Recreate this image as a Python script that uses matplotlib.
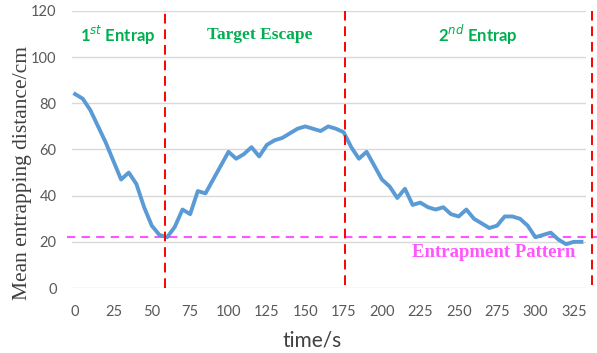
import matplotlib
matplotlib.use('Agg')
import matplotlib.pyplot as plt
import numpy as np

# time in seconds, sampled every 5 s
time_s = np.arange(0, 335, 5)
distance_cm = [84, 82, 77, 70, 63, 55, 47, 50, 45, 35,
               27, 23, 22, 26.5, 34, 32, 42, 41, 47, 53,
               59, 56, 58, 61, 57, 62, 64, 65, 67, 69,
               70, 69, 68, 70, 69, 67.5, 61, 56, 59, 53,
               47, 44, 39, 43, 36, 37, 35, 34, 35, 32,
               31, 34, 30, 28, 26, 27, 31, 31, 30, 27,
               22, 23, 24, 21, 19, 20, 20]

phase_bounds = [58.5, 176, 337]
pattern_level = 22
x_ticks = list(range(0, 350, 25))
y_ticks = list(range(0, 140, 20))

fig = plt.figure(figsize=(5.97, 3.53), dpi=100)
ax = fig.add_axes([0.1206, 0.184, 0.861, 0.785])

for y in y_ticks:
    ax.axhline(y, color='#D9D9D9', lw=1, zorder=0)

ax.plot(time_s, distance_cm, color='#5B9BD5', lw=2.8, solid_joinstyle='round', zorder=3)

# horizontal entrapment pattern level
ax.plot([-5, 341], [pattern_level, pattern_level], color='#FF55FF', lw=1.5,
        ls=(0, (4, 3)), clip_on=False, zorder=2)

# phase boundaries
red_style = dict(color='#FF0000', lw=1.4, ls=(0, (5, 3)), zorder=4)
ax.plot([phase_bounds[0]] * 2, [0, 120], **red_style)
ax.plot([phase_bounds[1]] * 2, [1.5, 120], **red_style)
ax.plot([phase_bounds[2]] * 2, [1.5, 120], clip_on=False, **red_style)

green = '#00B050'
ax.text(27.7, 109.6, r'1$^{st}$ Entrap', color=green, fontsize=12, fontweight='bold',
        family='Lato', ha='center', va='center')
ax.text(120.5, 109.6, 'Target Escape', color=green, fontsize=12.5, fontweight='bold',
        family='Liberation Serif', ha='center', va='center')
ax.text(262.2, 109.6, r'2$^{nd}$ Entrap', color=green, fontsize=12, fontweight='bold',
        family='Lato', ha='center', va='center')
ax.text(273, 15.6, 'Entrapment Pattern', color='#FF55FF', fontsize=13.5, fontweight='bold',
        family='Liberation Serif', ha='center', va='center')

ax.set_xlim(-2, 333)
ax.set_ylim(0, 120)
ax.set_xticks(x_ticks)
ax.set_yticks(y_ticks)
ax.tick_params(length=0, labelsize=10.5, labelcolor='#595959')
ax.tick_params(axis='x', pad=12)
ax.tick_params(axis='y', pad=11)
for lab in ax.get_xticklabels() + ax.get_yticklabels():
    lab.set_family('Lato')
for s in ax.spines.values():
    s.set_visible(False)

ax.set_xlabel('time/s', family='Lato', fontsize=15, color='#404040')
ax.xaxis.set_label_coords(0.467, -0.155)
ax.set_ylabel('Mean entrapping distance/cm', family='Liberation Serif', fontsize=15.5,
              color='#404040')
ax.yaxis.set_label_coords(-0.078, 0.415)

fig.savefig('out.png', dpi=100)
